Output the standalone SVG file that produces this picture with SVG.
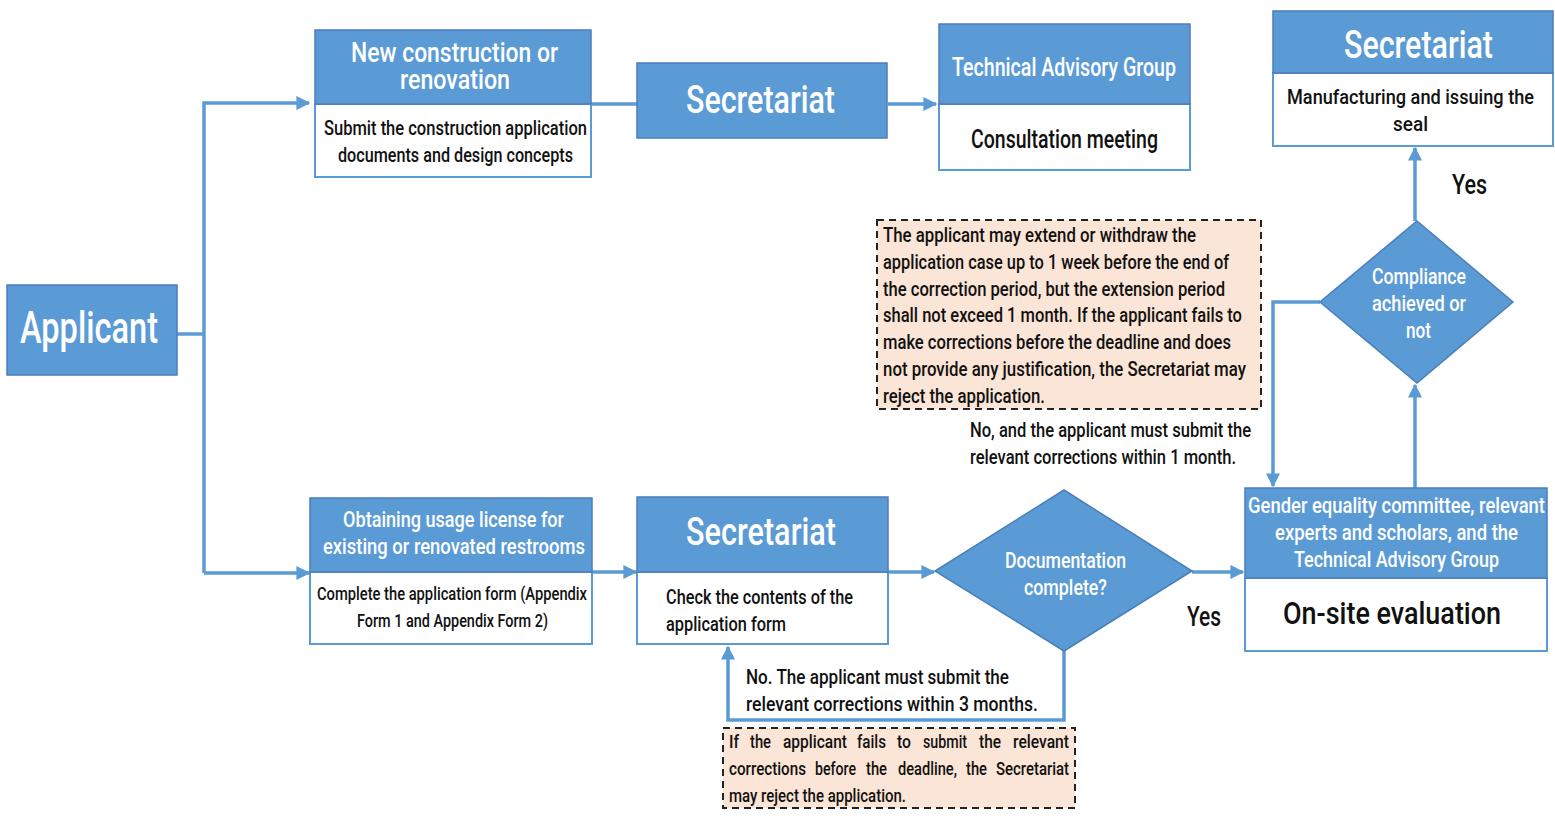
<svg xmlns="http://www.w3.org/2000/svg" width="1555" height="816" viewBox="0 0 1555 816">
<defs>
<style>
text{font-family:Roboto,"Liberation Sans","DejaVu Sans",sans-serif;font-weight:500;}
.hd{fill:#5B9BD5;stroke:#4A7EBB;stroke-width:1.5;}
.bd{fill:#ffffff;stroke:#5B9BD5;stroke-width:2;}
.w{fill:#ffffff;text-anchor:middle;}
.k{fill:#111111;}
.c{text-anchor:middle;}
.note{fill:#FBE5D6;stroke:#222;stroke-width:2;stroke-dasharray:7,5;}
.ln{fill:none;stroke:#5B9BD5;stroke-width:3.5;}
</style>
<marker id="ah" viewBox="0 0 10 10" refX="9" refY="5" markerWidth="4" markerHeight="4" orient="auto" markerUnits="strokeWidth">
<path d="M0,0 L10,5 L0,10 z" fill="#5B9BD5"/>
</marker>
</defs>
<rect width="1555" height="816" fill="#ffffff"/>

<g id="connectors">
<path class="ln" d="M177,334 H204"/>
<path class="ln" d="M204,573 V103 H309" marker-end="url(#ah)"/>
<path class="ln" d="M204,573 H309" marker-end="url(#ah)"/>
<path class="ln" d="M591,104 H637"/>
<path class="ln" d="M888,104 H936" marker-end="url(#ah)"/>
<path class="ln" d="M592,572 H636" marker-end="url(#ah)"/>
<path class="ln" d="M888,572 H934" marker-end="url(#ah)"/>
<path class="ln" d="M1192,572 H1243" marker-end="url(#ah)"/>
<path class="ln" d="M1064,651 V720 H728 V647" marker-end="url(#ah)"/>
<path class="ln" d="M1415,488 V385" marker-end="url(#ah)"/>
<path class="ln" d="M1415,221 V148" marker-end="url(#ah)"/>
<path class="ln" d="M1320,302 H1273 V486" marker-end="url(#ah)"/>
</g>

<g id="applicant">
<rect class="hd" x="7" y="285" width="170" height="90"/>
<text class="w" x="89" y="343" font-size="44" textLength="138" lengthAdjust="spacingAndGlyphs">Applicant</text>
</g>

<g id="new-construction">
<rect class="bd" x="315" y="104" width="276" height="73"/>
<rect class="hd" x="315" y="30" width="276" height="74"/>
<text class="w" x="454.5" y="62" font-size="28" textLength="207" lengthAdjust="spacingAndGlyphs">New construction or</text>
<text class="w" x="455" y="89" font-size="28" textLength="110" lengthAdjust="spacingAndGlyphs">renovation</text>
<text class="k c" x="455.5" y="135" font-size="20" textLength="263" lengthAdjust="spacingAndGlyphs">Submit the construction application</text>
<text class="k c" x="455.5" y="162" font-size="20" textLength="235" lengthAdjust="spacingAndGlyphs">documents and design concepts</text>
</g>

<g id="secretariat-top">
<rect class="hd" x="637" y="63" width="250" height="75"/>
<text class="w" x="760.5" y="113" font-size="39" textLength="149" lengthAdjust="spacingAndGlyphs">Secretariat</text>
</g>

<g id="tag">
<rect class="bd" x="939" y="104" width="251" height="66"/>
<rect class="hd" x="939" y="24" width="251" height="80"/>
<text class="w" x="1064" y="76" font-size="25" textLength="224" lengthAdjust="spacingAndGlyphs">Technical Advisory Group</text>
<text class="k c" x="1064.5" y="148" font-size="26" textLength="187" lengthAdjust="spacingAndGlyphs">Consultation meeting</text>
</g>

<g id="secretariat-seal">
<rect class="bd" x="1273" y="73" width="280" height="73"/>
<rect class="hd" x="1273" y="11" width="280" height="62"/>
<text class="w" x="1418.5" y="58" font-size="39" textLength="149" lengthAdjust="spacingAndGlyphs">Secretariat</text>
<text class="k c" x="1410.5" y="104" font-size="21" textLength="247" lengthAdjust="spacingAndGlyphs">Manufacturing and issuing the</text>
<text class="k c" x="1410.5" y="131" font-size="21" textLength="35" lengthAdjust="spacingAndGlyphs">seal</text>
</g>

<g id="yes-top">
<text class="k c" x="1469.5" y="194" font-size="28" textLength="35" lengthAdjust="spacingAndGlyphs">Yes</text>
</g>

<g id="compliance">
<polygon class="hd" points="1417,221 1513,302 1417,383 1320,302"/>
<text class="w" x="1419" y="284" font-size="22" textLength="94" lengthAdjust="spacingAndGlyphs">Compliance</text>
<text class="w" x="1419" y="311" font-size="22" textLength="94" lengthAdjust="spacingAndGlyphs">achieved or</text>
<text class="w" x="1418.5" y="338" font-size="22" textLength="25" lengthAdjust="spacingAndGlyphs">not</text>
</g>

<g id="note-1">
<rect class="note" x="877" y="220" width="384" height="189"/>
<text class="k" font-size="21">
<tspan x="883" y="242" textLength="313" lengthAdjust="spacingAndGlyphs">The applicant may extend or withdraw the</tspan>
<tspan x="883" y="269" textLength="346" lengthAdjust="spacingAndGlyphs">application case up to 1 week before the end of</tspan>
<tspan x="883" y="296" textLength="342" lengthAdjust="spacingAndGlyphs">the correction period, but the extension period</tspan>
<tspan x="883" y="322" textLength="359" lengthAdjust="spacingAndGlyphs">shall not exceed 1 month. If the applicant fails to</tspan>
<tspan x="883" y="349" textLength="348" lengthAdjust="spacingAndGlyphs">make corrections before the deadline and does</tspan>
<tspan x="883" y="376" textLength="363" lengthAdjust="spacingAndGlyphs">not provide any justification, the Secretariat may</tspan>
<tspan x="883" y="403" textLength="162" lengthAdjust="spacingAndGlyphs">reject the application.</tspan>
</text>
</g>

<g id="label-1month">
<text class="k" font-size="21">
<tspan x="970" y="437" textLength="281" lengthAdjust="spacingAndGlyphs">No, and the applicant must submit the</tspan>
<tspan x="970" y="464" textLength="266" lengthAdjust="spacingAndGlyphs">relevant corrections within 1 month.</tspan>
</text>
</g>

<g id="usage-license">
<rect class="bd" x="310" y="572" width="282" height="72"/>
<rect class="hd" x="310" y="498" width="282" height="74"/>
<text class="w" x="453.5" y="527" font-size="22" textLength="221" lengthAdjust="spacingAndGlyphs">Obtaining usage license for</text>
<text class="w" x="454" y="554" font-size="22" textLength="262" lengthAdjust="spacingAndGlyphs">existing or renovated restrooms</text>
<text class="k c" x="452" y="600" font-size="19" textLength="270" lengthAdjust="spacingAndGlyphs">Complete the application form (Appendix</text>
<text class="k c" x="452.5" y="627" font-size="19" textLength="191" lengthAdjust="spacingAndGlyphs">Form 1 and Appendix Form 2)</text>
</g>

<g id="secretariat-check">
<rect class="bd" x="637" y="572" width="251" height="72"/>
<rect class="hd" x="637" y="497" width="251" height="75"/>
<text class="w" x="761" y="545" font-size="39" textLength="150" lengthAdjust="spacingAndGlyphs">Secretariat</text>
<text class="k" x="666" y="604" font-size="21" textLength="187" lengthAdjust="spacingAndGlyphs">Check the contents of the</text>
<text class="k" x="666" y="631" font-size="21" textLength="120" lengthAdjust="spacingAndGlyphs">application form</text>
</g>

<g id="documentation">
<polygon class="hd" points="1064,490 1192,571 1064,651 935,571"/>
<text class="w" x="1065.5" y="568" font-size="22" textLength="121" lengthAdjust="spacingAndGlyphs">Documentation</text>
<text class="w" x="1065.5" y="595" font-size="22" textLength="83" lengthAdjust="spacingAndGlyphs">complete?</text>
</g>

<g id="yes-bottom">
<text class="k c" x="1204" y="626" font-size="28" textLength="34" lengthAdjust="spacingAndGlyphs">Yes</text>
</g>

<g id="onsite">
<rect class="bd" x="1245" y="578" width="302" height="73"/>
<rect class="hd" x="1245" y="488" width="302" height="90"/>
<text class="w" x="1396.5" y="513" font-size="22" textLength="297" lengthAdjust="spacingAndGlyphs">Gender equality committee, relevant</text>
<text class="w" x="1396.5" y="540" font-size="22" textLength="243" lengthAdjust="spacingAndGlyphs">experts and scholars, and the</text>
<text class="w" x="1396.5" y="567" font-size="22" textLength="205" lengthAdjust="spacingAndGlyphs">Technical Advisory Group</text>
<text class="k c" x="1392" y="624" font-size="32" textLength="218" lengthAdjust="spacingAndGlyphs">On-site evaluation</text>
</g>

<g id="label-3months">
<text class="k" font-size="21">
<tspan x="746" y="684" textLength="263" lengthAdjust="spacingAndGlyphs">No. The applicant must submit the</tspan>
<tspan x="746" y="711" textLength="292" lengthAdjust="spacingAndGlyphs">relevant corrections within 3 months.</tspan>
</text>
</g>

<g id="note-2">
<rect class="note" x="723" y="728" width="352" height="80"/>
<text class="k" font-size="19">
<tspan x="729" y="748" textLength="10" lengthAdjust="spacingAndGlyphs">If</tspan>
<tspan x="750" y="748" textLength="21" lengthAdjust="spacingAndGlyphs">the</tspan>
<tspan x="783" y="748" textLength="64" lengthAdjust="spacingAndGlyphs">applicant</tspan>
<tspan x="857" y="748" textLength="29" lengthAdjust="spacingAndGlyphs">fails</tspan>
<tspan x="897" y="748" textLength="14" lengthAdjust="spacingAndGlyphs">to</tspan>
<tspan x="923" y="748" textLength="44" lengthAdjust="spacingAndGlyphs">submit</tspan>
<tspan x="979" y="748" textLength="22" lengthAdjust="spacingAndGlyphs">the</tspan>
<tspan x="1013" y="748" textLength="56" lengthAdjust="spacingAndGlyphs">relevant</tspan>
<tspan x="729" y="775" textLength="77" lengthAdjust="spacingAndGlyphs">corrections</tspan>
<tspan x="815" y="775" textLength="41" lengthAdjust="spacingAndGlyphs">before</tspan>
<tspan x="866" y="775" textLength="21" lengthAdjust="spacingAndGlyphs">the</tspan>
<tspan x="898" y="775" textLength="59" lengthAdjust="spacingAndGlyphs">deadline,</tspan>
<tspan x="966" y="775" textLength="21" lengthAdjust="spacingAndGlyphs">the</tspan>
<tspan x="996" y="775" textLength="73" lengthAdjust="spacingAndGlyphs">Secretariat</tspan>
<tspan x="729" y="802" textLength="177" lengthAdjust="spacingAndGlyphs">may reject the application.</tspan>
</text>
</g>
</svg>
